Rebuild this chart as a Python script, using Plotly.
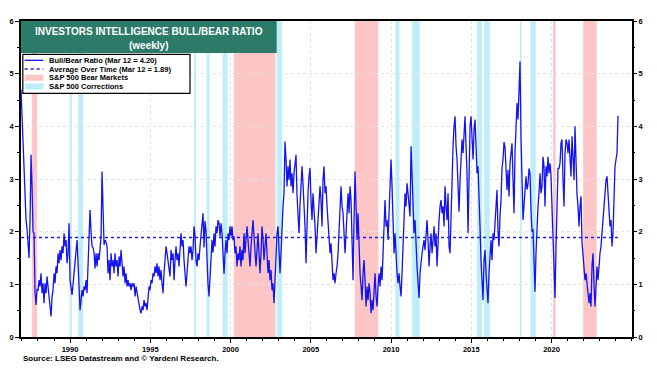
import pandas as pd
import plotly.graph_objects as go

# ---------------- data ----------------
# Bull/Bear ratio, one reading about every 3 weeks, in four stretches
seg_start_years = [1986.947, 1996.480, 2005.888, 2015.358]
readings_per_year = 16.05

ratio_1987_1996 = [
    4.70, 4.19, 4.00, 3.24, 2.90, 2.22, 2.05, 1.65, 1.50, 2.22,
    3.46, 2.86, 2.00, 1.97, 0.85, 0.61, 0.90, 0.89, 1.08, 0.96,
    1.21, 0.83, 1.02, 0.64, 1.02, 0.83, 1.15, 0.96, 0.77, 0.58,
    0.39, 0.77, 0.89, 1.21, 1.02, 1.34, 1.21, 1.59, 1.40, 1.65,
    1.46, 1.72, 1.59, 1.97, 1.72, 1.84, 1.40, 1.59, 2.16, 1.08,
    0.89, 0.80, 1.00, 1.21, 1.46, 1.65, 1.84, 1.40, 0.77, 0.51,
    0.70, 0.89, 0.77, 0.96, 0.89, 1.08, 0.83, 1.46, 2.10, 2.41,
    2.00, 1.72, 1.70, 1.60, 1.30, 1.59, 1.34, 1.59, 1.46, 1.72,
    1.90, 3.14, 2.35, 1.75, 1.84, 1.80, 1.72, 1.21, 1.46, 1.08,
    1.59, 1.34, 1.46, 1.21, 1.59, 1.34, 1.46, 1.15, 1.53, 1.34,
    1.65, 1.27, 1.15, 1.34, 1.02, 1.21, 0.96, 1.08, 0.96, 1.02,
    0.89, 1.02, 0.96, 1.02, 0.77, 0.96, 0.83, 0.70, 0.58, 0.51,
    0.45, 0.58, 0.51, 0.70, 0.58, 0.64, 0.51, 0.77, 0.96, 0.89,
    1.08, 1.02, 1.21, 1.15, 1.34, 1.21, 1.40, 1.15, 1.34, 1.08,
    1.27, 1.02, 0.83, 1.21, 1.59, 1.72, 1.59, 1.46, 1.34, 1.15,
    1.65, 1.46, 1.59,
]
ratio_1996_2005 = [
    1.08, 1.46, 1.72, 1.46, 1.59, 1.34, 1.59, 1.97, 1.72, 1.84,
    1.46, 1.21, 0.96, 1.21, 1.59, 1.72, 1.59, 1.72, 1.46, 1.65,
    2.10, 1.91, 1.46, 1.34, 1.59, 1.46, 1.72, 1.97, 2.22, 2.35,
    1.70, 2.20, 2.00, 1.30, 1.00, 0.77, 1.10, 1.59, 1.84, 1.60,
    1.97, 1.72, 2.10, 1.97, 2.22, 2.16, 1.91, 2.16, 1.97, 1.59,
    1.20, 1.59, 1.84, 1.59, 1.97, 1.84, 2.10, 1.91, 2.10, 1.84,
    1.91, 1.59, 1.72, 1.34, 1.59, 1.46, 1.72, 1.34, 1.65, 1.46,
    1.97, 1.59, 1.91, 2.10, 1.84, 1.59, 1.34, 1.72, 1.97, 2.22,
    1.91, 1.59, 1.34, 1.65, 1.97, 1.59, 1.21, 1.59, 2.10, 1.84,
    1.46, 1.72, 1.97, 1.59, 1.21, 1.46, 1.08, 1.27, 0.89, 1.02,
    0.64, 1.08, 1.72, 1.97, 2.10, 1.59, 1.21, 1.59, 2.10, 2.48,
    2.73, 3.71, 3.37, 2.86, 3.24, 2.98, 3.37, 2.86, 3.11, 2.73,
    3.11, 3.37, 3.46, 2.70, 2.20, 1.97, 2.50, 2.86, 3.24, 2.90,
    2.60, 2.10, 1.40, 2.40, 2.73, 3.05, 3.21, 2.60, 2.22, 2.73,
    2.48, 2.10, 1.59, 1.97, 2.22, 2.54, 2.86, 2.60, 2.10, 2.98,
    3.24,
]
ratio_2005_2015 = [
    2.73, 2.86, 2.48, 2.10, 1.84, 1.59, 1.78, 1.34, 1.08, 1.21,
    1.02, 1.21, 1.34, 1.59, 2.10, 2.60, 2.86, 2.48, 2.35, 1.97,
    1.59, 1.97, 2.48, 2.73, 2.35, 2.86, 2.60, 1.59, 1.08, 2.22,
    3.14, 2.48, 1.84, 2.35, 1.59, 1.21, 0.96, 0.70, 1.21, 1.46,
    1.08, 0.58, 0.96, 0.70, 1.02, 0.83, 0.45, 0.70, 0.51, 0.96,
    1.21, 0.77, 0.58, 0.96, 1.21, 0.96, 1.34, 1.08, 1.72, 2.10,
    2.60, 2.10, 2.22, 1.84, 2.48, 3.11, 3.37, 2.86, 2.10, 1.59,
    1.97, 1.46, 1.21, 1.02, 1.21, 0.96, 0.77, 1.21, 1.72, 2.22,
    2.73, 2.48, 2.92, 2.73, 2.41, 2.29, 3.62, 3.05, 2.22, 1.97,
    2.22, 1.59, 1.34, 1.02, 0.74, 1.21, 1.46, 1.59, 1.72, 1.84,
    1.65, 1.97, 2.22, 1.84, 1.34, 1.72, 1.97, 1.59, 1.84, 2.10,
    1.72, 1.97, 1.34, 1.97, 2.22, 2.48, 2.60, 2.35, 2.48, 2.10,
    2.86, 2.48, 2.22, 2.73, 1.72, 1.59, 2.35, 3.37, 3.62, 4.00,
    4.19, 3.62, 3.37, 2.86, 2.38, 2.98, 3.37, 3.75, 3.49, 3.94,
    4.19, 3.62, 3.11, 1.97, 3.37, 4.00, 4.19, 3.81, 3.37, 3.94,
    4.13, 3.62,
]
ratio_2015_2024 = [
    3.11, 3.24, 2.79, 2.10, 1.46, 0.96, 0.70, 1.46, 1.65, 1.21,
    0.83, 0.64, 1.21, 1.59, 1.84, 1.46, 1.97, 1.84, 2.22, 2.48,
    2.79, 2.00, 1.72, 2.30, 2.60, 3.20, 3.37, 3.70, 3.60, 3.20,
    2.79, 3.17, 2.67, 3.30, 3.49, 3.68, 3.00, 2.35, 3.50, 4.13,
    4.44, 4.13, 4.60, 5.23, 3.80, 2.70, 2.22, 2.50, 2.90, 3.05,
    2.80, 2.90, 3.20, 3.10, 2.40, 2.00, 2.05, 1.50, 0.86, 1.59,
    2.22, 2.48, 2.73, 3.11, 2.73, 2.86, 3.42, 3.24, 2.48, 3.24,
    3.05, 3.42, 3.11, 3.30, 3.05, 2.48, 2.10, 1.34, 0.74, 1.70,
    2.60, 3.20, 3.20, 3.30, 3.68, 3.75, 3.00, 2.48, 3.49, 3.75,
    3.68, 3.49, 3.75, 3.30, 3.05, 3.81, 3.20, 2.98, 4.00, 3.20,
    2.70, 2.48, 2.10, 2.48, 2.67, 1.80, 1.60, 1.40, 1.08, 1.21,
    0.96, 0.77, 0.64, 0.83, 0.58, 1.34, 1.59, 1.00, 0.58, 0.96,
    1.34, 1.08, 1.46, 1.59, 1.72, 1.97, 2.22, 2.41, 2.79, 2.98,
    3.05, 2.73, 2.35, 2.10, 2.22, 1.72, 1.97, 2.54, 3.24, 3.37,
    3.49, 4.20,
]
average_value = 1.89

bear_start = ["1987-08-25", "2000-03-24", "2007-10-09", "2020-02-19", "2022-01-03"]
bear_end = ["1987-12-04", "2002-10-09", "2009-03-09", "2020-03-23", "2022-10-12"]
corr_start = ["1990-01-02", "1990-07-16", "1997-10-07", "1998-07-17", "1999-07-16",
              "2002-11-27", "2010-04-23", "2011-04-29", "2015-05-21", "2015-11-03",
              "2018-01-26", "2018-09-20"]
corr_end = ["1990-01-30", "1990-10-11", "1997-10-27", "1998-08-31", "1999-10-15",
            "2003-03-11", "2010-07-02", "2011-10-03", "2015-08-25", "2016-02-11",
            "2018-02-08", "2018-12-24"]

tick_years = [1990, 1995, 2000, 2005, 2010, 2015, 2020]
y_ticks = [0, 1, 2, 3, 4, 5, 6]

title_line1 = "INVESTORS INTELLIGENCE BULL/BEAR RATIO"
title_line2 = "(weekly)"
legend_labels = ["Bull/Bear Ratio (Mar 12 = 4.20)", "Average Over Time (Mar 12 = 1.89)",
                 "S&P 500 Bear Markets", "S&P 500 Corrections"]
source_text = "Source: LSEG Datastream and © Yardeni Research."

# ---------------- build series ----------------
def dec_to_ts(y):
    yr = int(y)
    return pd.Timestamp(yr, 1, 1) + pd.Timedelta(days=(y - yr) * 365.25)

step = pd.Timedelta(days=365.25 / readings_per_year)
dates, ratio = [], []
for start, seg in zip(seg_start_years,
                      [ratio_1987_1996, ratio_1996_2005, ratio_2005_2015, ratio_2015_2024]):
    t0 = dec_to_ts(start)
    for i, v in enumerate(seg):
        dates.append(t0 + i * step)
        ratio.append(v)

FONT = "Liberation Sans, Arial, sans-serif"
BLUE = "#1414f0"
AVG_BLUE = "#1a1aff"
PINK = "#fdc6c6"
LBLUE = "#bdeefa"
TEAL = "#2c7a68"

fig = go.Figure()
fig.add_trace(go.Scatter(x=dates, y=ratio, mode="lines", name=legend_labels[0],
                         line=dict(color=BLUE, width=1.3), showlegend=False))
fig.add_trace(go.Scatter(x=[dates[0], dates[-1]], y=[average_value, average_value],
                         mode="lines", name=legend_labels[1], yaxis="y2",
                         line=dict(color=AVG_BLUE, width=1.5, dash="dot"), showlegend=False))

shapes = []
for s, e in zip(bear_start, bear_end):
    shapes.append(dict(type="rect", xref="x", yref="paper", x0=s, x1=e, y0=0, y1=1,
                       fillcolor=PINK, line=dict(color=PINK, width=1), layer="below"))
for s, e in zip(corr_start, corr_end):
    shapes.append(dict(type="rect", xref="x", yref="paper", x0=s, x1=e, y0=0, y1=1,
                       fillcolor=LBLUE, line=dict(color=LBLUE, width=1), layer="below"))

# title box
shapes.append(dict(type="rect", xref="paper", yref="paper", x0=0, x1=0.4185, y0=0.899, y1=1,
                   fillcolor=TEAL, line=dict(width=0), layer="above"))
# legend box
shapes.append(dict(type="rect", xref="paper", yref="paper", x0=0.003, x1=0.2766,
                   y0=0.7712, y1=0.8946, fillcolor="white",
                   line=dict(color="black", width=1.2), layer="above"))
row_y = [0.8756, 0.8481, 0.8203, 0.7927]
shapes.append(dict(type="line", xref="paper", yref="paper", x0=0.0060, x1=0.0365,
                   y0=row_y[0], y1=row_y[0], line=dict(color=BLUE, width=1.3), layer="above"))
shapes.append(dict(type="line", xref="paper", yref="paper", x0=0.0060, x1=0.0365,
                   y0=row_y[1], y1=row_y[1], line=dict(color=AVG_BLUE, width=1.3, dash="dot"),
                   layer="above"))
shapes.append(dict(type="rect", xref="paper", yref="paper", x0=0.0060, x1=0.0365,
                   y0=row_y[2] - 0.0095, y1=row_y[2] + 0.0095, fillcolor=PINK,
                   line=dict(width=0), layer="above"))
shapes.append(dict(type="rect", xref="paper", yref="paper", x0=0.0060, x1=0.0365,
                   y0=row_y[3] - 0.0095, y1=row_y[3] + 0.0095, fillcolor=LBLUE,
                   line=dict(width=0), layer="above"))

annotations = [
    dict(text=title_line1, xref="paper", yref="paper", x=0.209, y=0.9668, showarrow=False,
         xanchor="center", yanchor="middle",
         font=dict(family=FONT, size=10, color="white", weight="bold")),
    dict(text=title_line2, xref="paper", yref="paper", x=0.209, y=0.924, showarrow=False,
         xanchor="center", yanchor="middle",
         font=dict(family=FONT, size=10, color="white", weight="bold")),
    dict(text=source_text, xref="paper", yref="paper", x=0.0, y=-0.0696, showarrow=False,
         xanchor="left", yanchor="middle",
         font=dict(family=FONT, size=8, color="black", weight="bold")),
]
for lbl, yy in zip(legend_labels, row_y):
    annotations.append(dict(text=lbl, xref="paper", yref="paper", x=0.042, y=yy,
                            showarrow=False, xanchor="left", yanchor="middle",
                            font=dict(family=FONT, size=7.5, color="black", weight="bold")))

tickfont = dict(family=FONT, size=7.5, color="black", weight="bold")
fig.update_layout(
    # the page body adds an 8px offset, so the figure is 8px smaller on each side
    width=649, height=365,
    margin=dict(l=13, r=25, t=13, b=36, autoexpand=False),
    paper_bgcolor="white", plot_bgcolor="white",
    showlegend=False,
    shapes=shapes, annotations=annotations,
    xaxis=dict(type="date", range=["1986-12-12", "2025-01-06"],
               tickvals=[pd.Timestamp(y, 1, 1) for y in tick_years],
               ticktext=[str(y) for y in tick_years],
               ticks="outside", ticklen=4, tickcolor="black", tickwidth=1,
               showline=True, linecolor="black", linewidth=1.5, mirror=True,
               showgrid=True, gridcolor="#e2e2e2", griddash="dot", gridwidth=1,
               zeroline=False, tickfont=tickfont, automargin=False,
               minor=dict(dtick="M12", tick0="1987-01-01", ticks="outside", ticklen=2,
                          tickcolor="black", showgrid=False)),
    yaxis=dict(range=[0, 6], tickvals=y_ticks, ticks="outside", ticklen=4, tickcolor="black",
               showline=True, linecolor="black", linewidth=1.5, mirror=True,
               showgrid=True, gridcolor="#e2e2e2", griddash="dot", gridwidth=1,
               zeroline=False, tickfont=tickfont, automargin=False,
               minor=dict(dtick=0.5, ticks="outside", ticklen=2, tickcolor="black",
                          showgrid=False)),
    yaxis2=dict(range=[0, 6], tickvals=y_ticks, overlaying="y", side="right",
                ticks="outside", ticklen=4, tickcolor="black", showgrid=False,
                zeroline=False, showline=False, tickfont=tickfont, automargin=False,
                minor=dict(dtick=0.5, ticks="outside", ticklen=2, tickcolor="black",
                           showgrid=False)),
)

fig.write_html("out.html")
